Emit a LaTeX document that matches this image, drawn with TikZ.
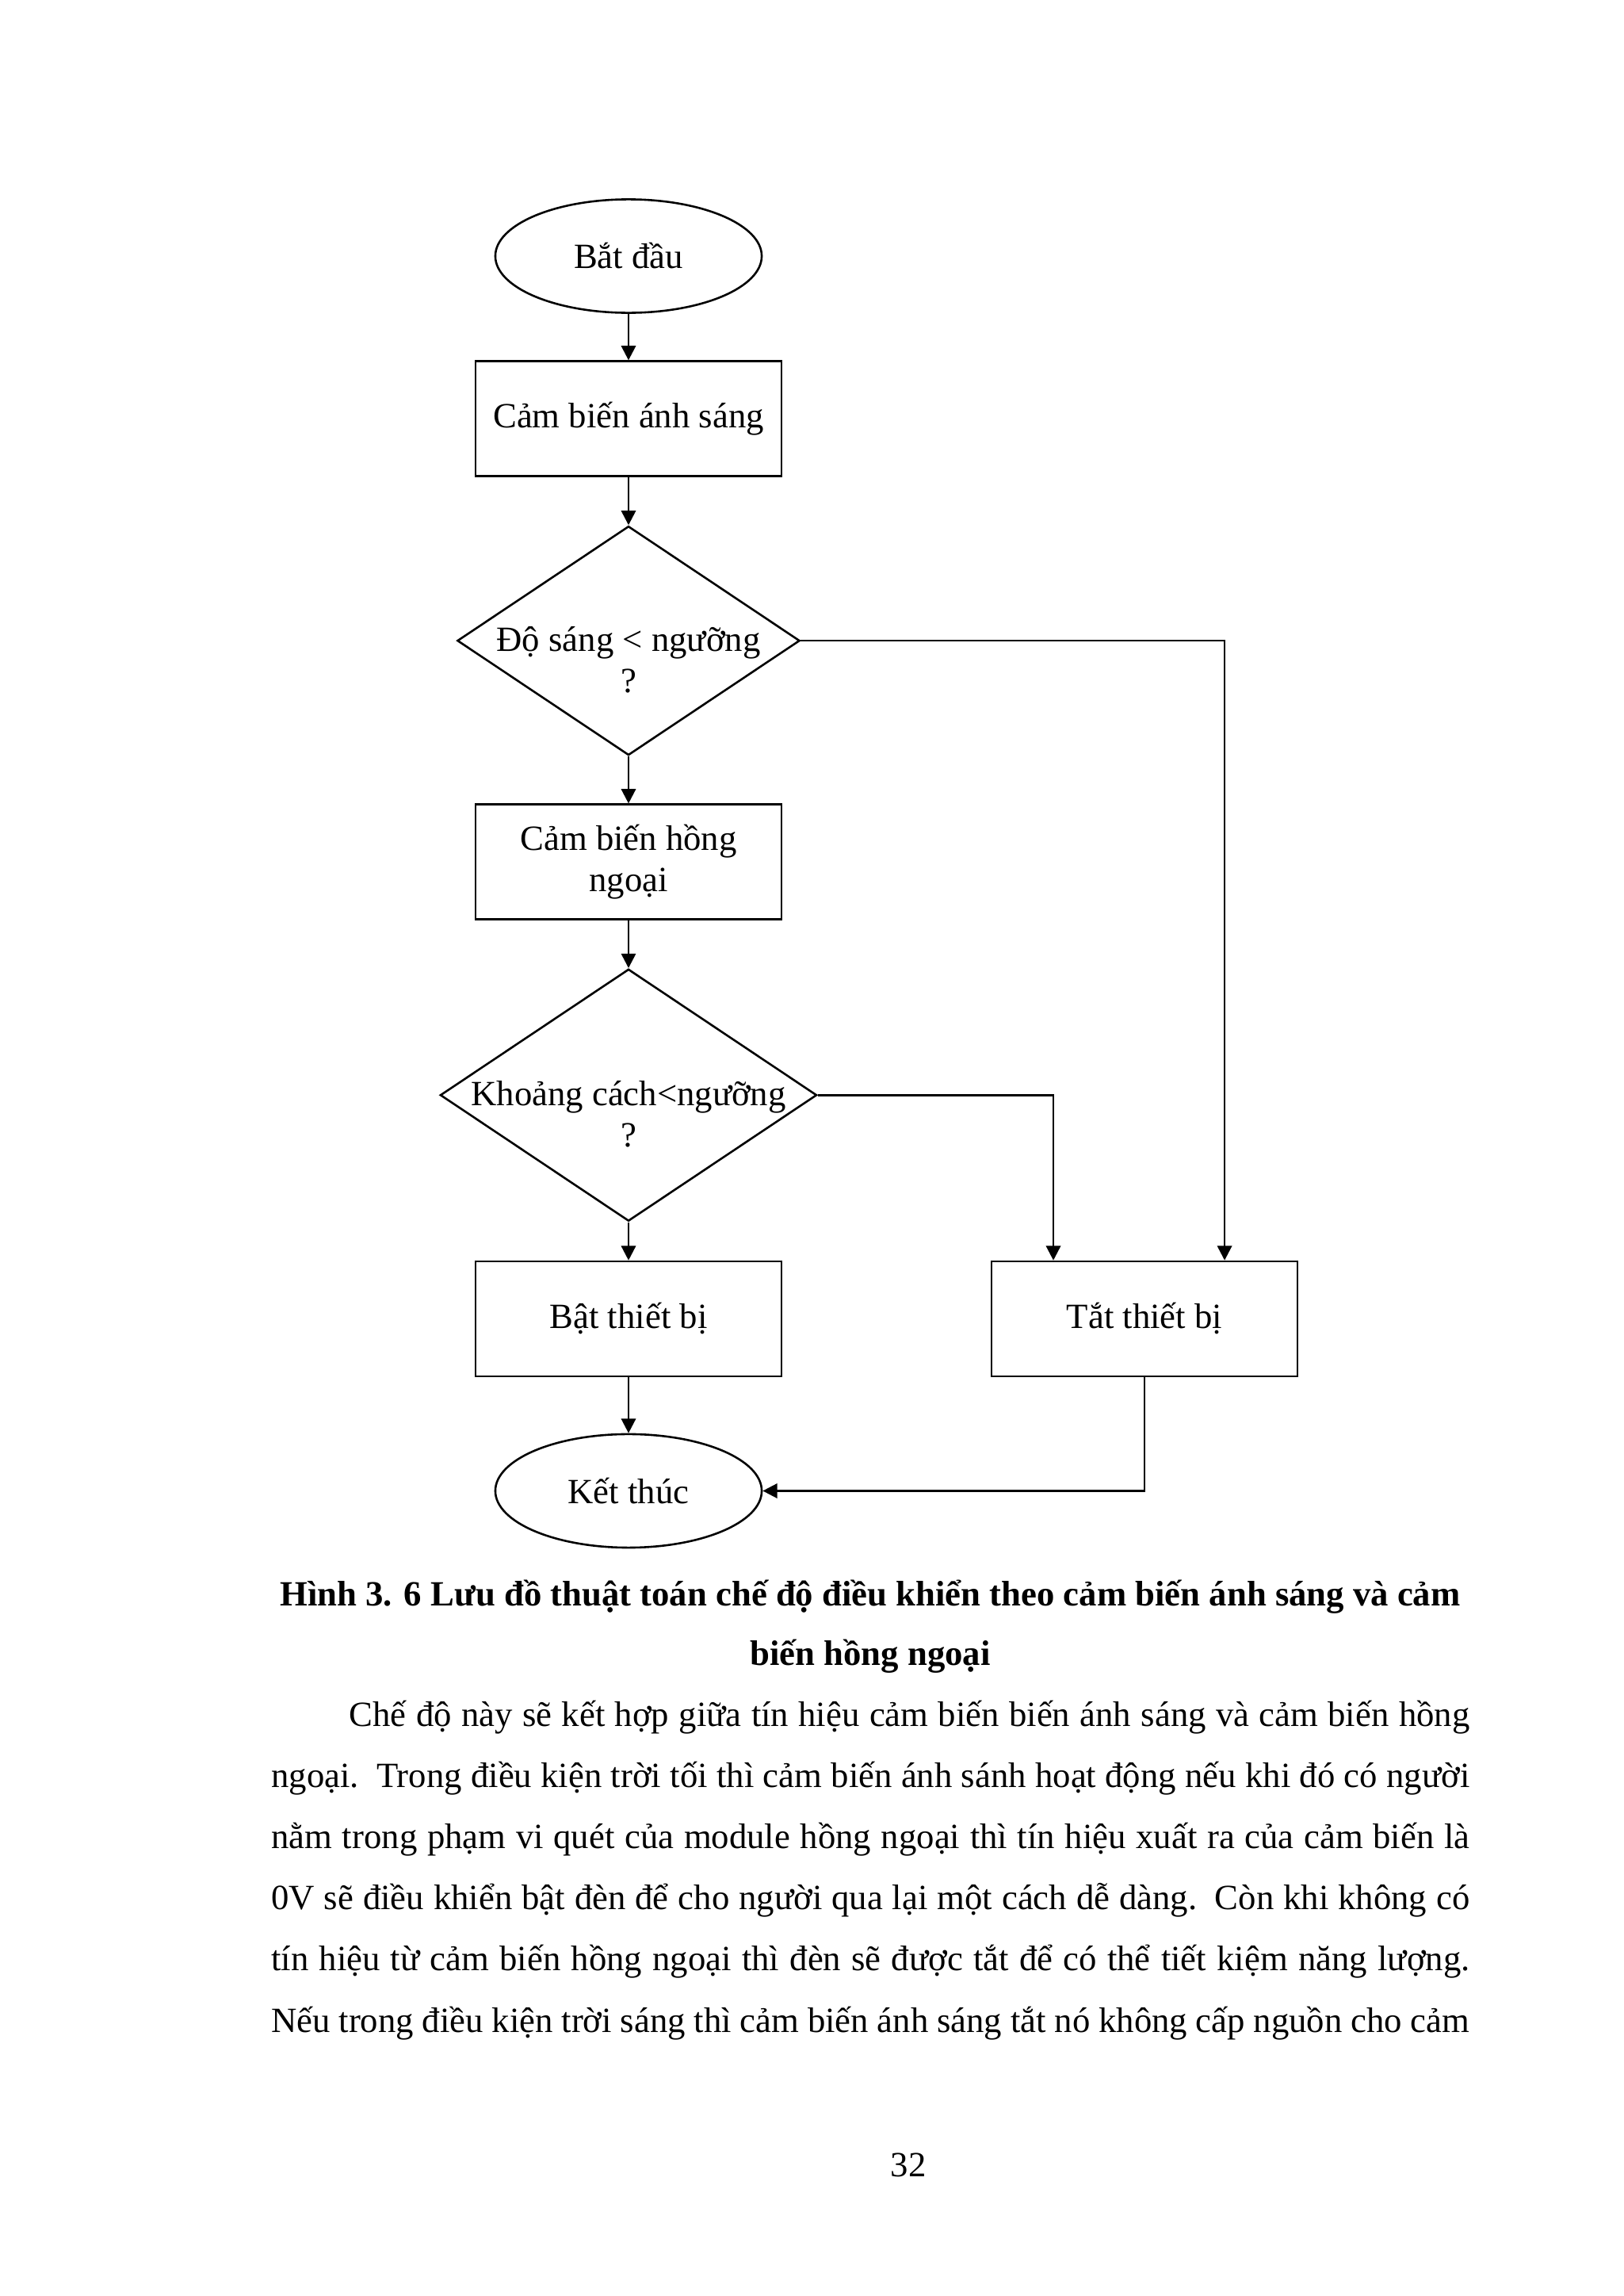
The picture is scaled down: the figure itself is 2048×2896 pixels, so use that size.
\documentclass[tikz,border=0pt]{standalone}
\usepackage{fontspec}
\setmainfont{Liberation Serif}
\usetikzlibrary{arrows.meta,shapes.geometric}

\begin{document}
\begin{tikzpicture}[x=0.290662pt,y=-0.290662pt,line width=0.75pt,
    >={Triangle[length=5.3pt,width=5.3pt]},
    every node/.style={font=\fontsize{13pt}{15pt}\selectfont},
    term node/.style={ellipse,draw,minimum width=97.7pt,minimum height=41.6pt,inner sep=0pt},
    main node/.style={rectangle,draw,minimum width=112.2pt,minimum height=42.1pt,align=center,inner sep=0pt},
    test node/.style={diamond,draw,inner sep=0pt,minimum width=125.6pt,minimum height=84pt},
    test text/.style={align=center,yshift=-7pt}]
    \useasboundingbox (0,0) rectangle (2048,2896);

    \node[term node] (1) at (793,323) {Bắt đầu};
    \node[main node] (2) [node distance=59.6pt, below of=1] {Cảm biến ánh sáng};
    \node[test node, label={[test text]center:{Độ sáng < ngưỡng\\?}}] (3) [node distance=81.4pt, below of=2] {};
    \node[main node] (4) [node distance=81.1pt, below of=3] {Cảm biến hồng\\ngoại};
    \node[test node, minimum width=138.1pt, minimum height=92.4pt,
        label={[test text]center:{Khoảng cách<ngưỡng\\?}}] (5) [node distance=85.5pt, below of=4] {};
    \node[main node] (6) [node distance=82pt, below of=5] {Bật thiết bị};
    \node[main node] (7) [node distance=189.2pt, right of=6] {Tắt thiết bị};
    \node[term node] (8) [node distance=63.1pt, below of=6] {Kết thúc};

    \path[->]
        (1) edge (2)
        (2) edge (3)
        (3) edge (4)
        (4) edge (5)
        (5) edge (6)
        (6) edge (8);
    \draw[->] (3.east) -| ([xshift=29.4pt]7.north);
    \draw[->] (5.east) -| ([xshift=-33.4pt]7.north);
    \draw[->] (7.south) |- (8.east);

    % caption and text of the page
    \node[anchor=base, align=center, inner sep=0pt, font=\bfseries\fontsize{13pt}{21.8pt}\selectfont] (9) at (1098,2100)
        {Hình 3. 6 Lưu đồ thuật toán chế độ điều khiển theo cảm biến ánh sáng và cảm\\biến hồng ngoại};
    \node[anchor=base west, inner sep=0pt, text width=439.5pt, font=\fontsize{13pt}{22.44pt}\selectfont] (10) at (341,2177) {\noindent
        \spaceskip=1.2pt plus 20pt minus 0.5pt%
        \makebox[\linewidth][s]{\hspace*{28.6pt}Chế độ này sẽ kết hợp giữa tín hiệu cảm biến biến ánh sáng và cảm biến hồng}\\
        \makebox[\linewidth][s]{ngoại. Trong điều kiện trời tối thì cảm biến ánh sánh hoạt động nếu khi đó có người}\\
        \makebox[\linewidth][s]{nằm trong phạm vi quét của module hồng ngoại thì tín hiệu xuất ra của cảm biến là}\\
        \makebox[\linewidth][s]{0V sẽ điều khiển bật đèn để cho người qua lại một cách dễ dàng. Còn khi không có}\\
        \makebox[\linewidth][s]{tín hiệu từ cảm biến hồng ngoại thì đèn sẽ được tắt để có thể tiết kiệm năng lượng.}\\
        \makebox[\linewidth][s]{Nếu trong điều kiện trời sáng thì cảm biến ánh sáng tắt nó không cấp nguồn cho cảm}};
    \node[anchor=base] (11) at (1146,2745) {32};
\end{tikzpicture}
\end{document}
